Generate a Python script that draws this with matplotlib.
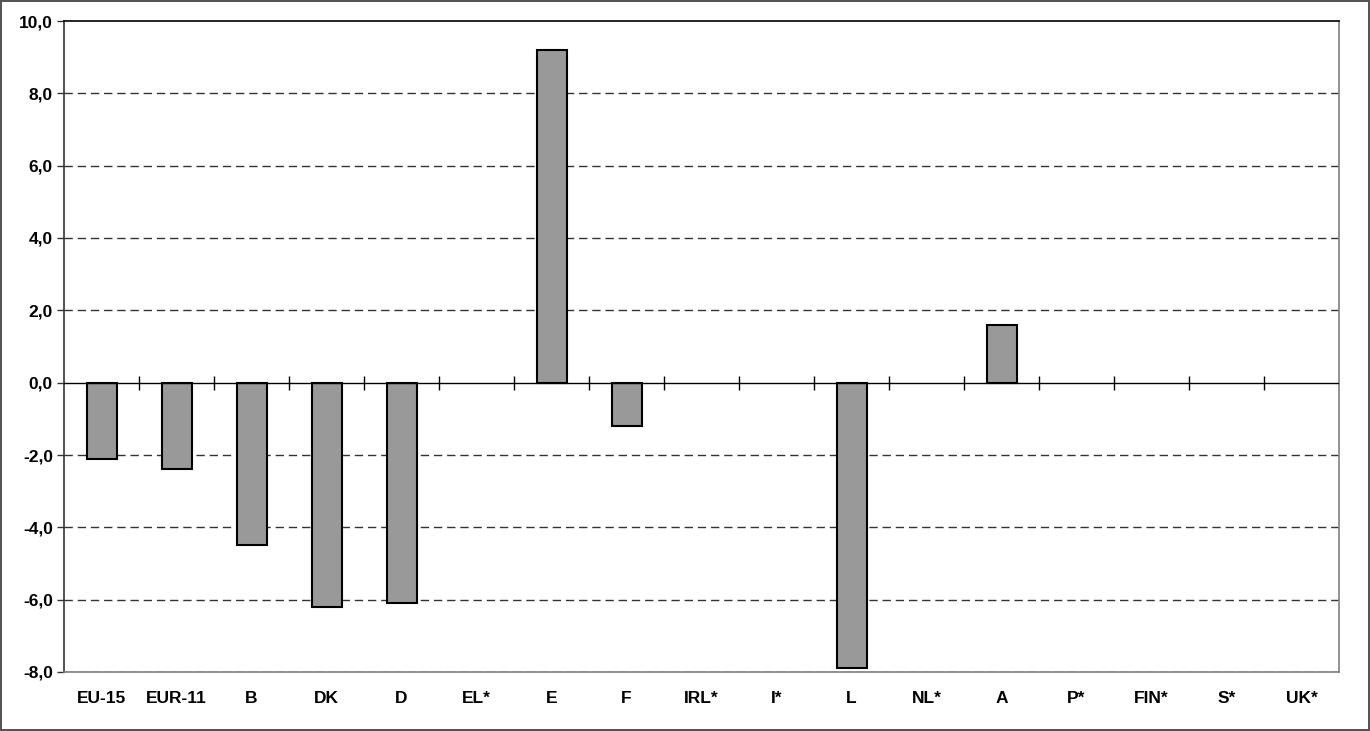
import matplotlib.pyplot as plt
import matplotlib.ticker as mticker
import numpy as np

plt.rcParams['font.family'] = ['Liberation Sans', 'DejaVu Sans']

# Data
countries = ["EU-15", "EUR-11", "B", "DK", "D", "EL*", "E", "F", "IRL*",
             "I*", "L", "NL*", "A", "P*", "FIN*", "S*", "UK*"]
values = [-2.1, -2.4, -4.5, -6.2, -6.1, np.nan, 9.2, -1.2, np.nan,
          np.nan, -7.9, np.nan, 1.6, np.nan, np.nan, np.nan, np.nan]
y_ticks = [-8, -6, -4, -2, 0, 2, 4, 6, 8, 10]

fig = plt.figure(figsize=(13.7, 7.31), dpi=100)
fig.patch.set_edgecolor("#555555")
fig.patch.set_linewidth(1.5)
ax = fig.add_axes([64 / 1370, 59 / 731, 1275 / 1370, 651 / 731])

x = np.arange(len(countries))
ax.bar(x, values, width=0.4, color="#999999", edgecolor="black", linewidth=1.5, zorder=3)

# zero line with tick marks between categories
ax.axhline(0, color="black", linewidth=1, zorder=4)
ax.plot(x[:-1] + 0.5, np.zeros(len(x) - 1), linestyle="none", marker="|",
        markersize=10, markeredgewidth=1, color="black", zorder=4)

ax.set_xlim(-0.5, len(countries) - 0.5)
ax.set_ylim(-8, 10)
ax.set_yticks(y_ticks)
ax.yaxis.set_major_formatter(mticker.FuncFormatter(lambda v, p: f"{v:.1f}".replace(".", ",")))
ax.tick_params(axis="y", length=5, width=1, color="#333333", labelsize=12.5, pad=3)
for lbl in ax.get_yticklabels():
    lbl.set_fontweight("bold")

ax.set_xticks(x)
ax.set_xticklabels(countries, fontsize=12.5, fontweight="bold")
ax.tick_params(axis="x", length=0, pad=14)

# dashed gridlines
for yv in y_ticks:
    if yv not in (0, 10):
        ax.axhline(yv, color="#333333", linewidth=1, dashes=(6, 3.5), zorder=1)

ax.spines["top"].set_color("black")
ax.spines["left"].set_color("#333333")
ax.spines["right"].set_color("#808080")
ax.spines["bottom"].set_color("#808080")
for s in ax.spines.values():
    s.set_linewidth(1.2)

fig.savefig("out.png", dpi=100, edgecolor=fig.get_edgecolor())
